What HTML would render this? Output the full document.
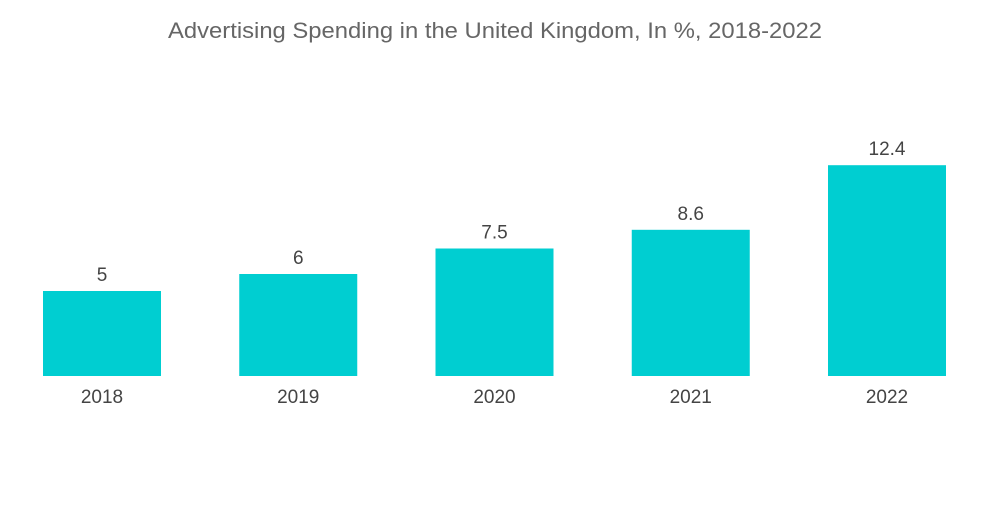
<!DOCTYPE html>
<html><head><meta charset="utf-8"><style>
body{margin:0;background:#fff;width:1000px;height:504px;overflow:hidden}
svg text{font-family:"Liberation Sans",sans-serif}
</style></head><body>
<svg id="chart" width="1000" height="504">
<text x="168" y="38" textLength="654" lengthAdjust="spacingAndGlyphs" font-size="22" fill="#666">Advertising Spending in the United Kingdom, In %, 2018-2022</text>
<g id="bars"></g>
</svg>
<script>
const categories = ["2018","2019","2020","2021","2022"];
const values = [5, 6, 7.5, 8.6, 12.4];
const valueLabels = ["5","6","7.5","8.6","12.4"];
const baseY = 376, scale = 17, x0 = 43, step = 196.25, bw = 118;
function yPos(v){ return baseY - v*scale; }
function xPos(i){ return x0 + i*step; }
const g = document.getElementById('bars');
const NS = "http://www.w3.org/2000/svg";
categories.forEach((c,i)=>{
  const r = document.createElementNS(NS,'rect');
  r.setAttribute('x', xPos(i)); r.setAttribute('y', yPos(values[i]));
  r.setAttribute('width', bw); r.setAttribute('height', baseY - yPos(values[i]));
  r.setAttribute('fill', '#00ced1');
  
  
  g.appendChild(r);
  const t = document.createElementNS(NS,'text');
  t.setAttribute('x', xPos(i)+bw/2); t.setAttribute('y', yPos(values[i]) - 10);
  t.setAttribute('text-anchor','middle'); t.setAttribute('font-size','19'); t.setAttribute('fill','#444');
  t.textContent = valueLabels[i];
  
  
  g.appendChild(t);
  const l = document.createElementNS(NS,'text');
  l.setAttribute('x', xPos(i)+bw/2); l.setAttribute('y', 403);
  l.setAttribute('text-anchor','middle'); l.setAttribute('font-size','19'); l.setAttribute('fill','#444');
  l.textContent = c;
  
  
  g.appendChild(l);
});
</script>
</body></html>
